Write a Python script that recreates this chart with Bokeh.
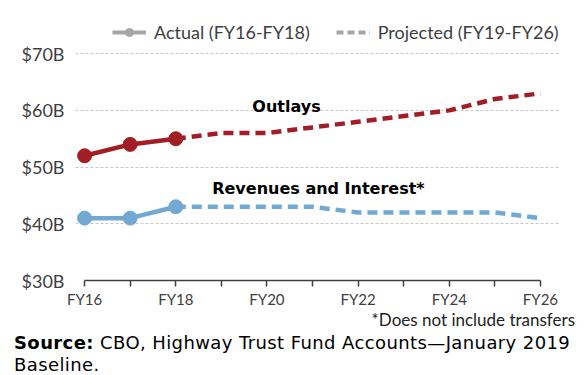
from bokeh.plotting import figure
from bokeh.layouts import column
from bokeh.models import (ColumnDataSource, Legend, LegendItem, Label, FixedTicker, Div)
from bokeh.embed import file_html
from bokeh.resources import INLINE

# ---- data ----
years_actual = [2016, 2017, 2018]
outlays_actual = [52, 54, 55]
revenues_actual = [41, 41, 43]

years_proj = [2018, 2019, 2020, 2021, 2022, 2023, 2024, 2025, 2026]
outlays_proj = [55, 56, 56, 57, 58, 59, 60, 62, 63]
revenues_proj = [43, 43, 43, 43, 42, 42, 42, 42, 41]

y_ticks = [30, 40, 50, 60, 70]
y_labels = ["$30B", "$40B", "$50B", "$60B", "$70B"]
x_ticks = list(range(2016, 2027))
x_labels = {y: ("FY%02d" % (y - 2000) if y % 2 == 0 else "") for y in x_ticks}

RED = "#A21D24"
BLUE = "#72A9D4"
GRAY = "#A6A6A6"
FONT = "Lato"
BOLD_FONT = "DejaVu Sans"

W, H = 580, 310
p = figure(width=W, height=H, output_backend="svg", toolbar_location=None,
           x_range=(2015.8, 2026.44), y_range=(30, 75.5),
           min_border_left=75, min_border_right=20, min_border_top=22,
           min_border_bottom=30)
p.outline_line_color = None
p.background_fill_color = "white"

# axes
p.xaxis.ticker = FixedTicker(ticks=x_ticks)
p.xaxis.major_label_overrides = x_labels
p.xaxis.bounds = (2016, 2026)
p.xaxis.axis_line_color = "#404040"
p.xaxis.axis_line_width = 1.5
p.xaxis.major_tick_line_color = "#404040"
p.xaxis.major_tick_line_width = 1.5
p.xaxis.major_tick_in = 0
p.xaxis.major_tick_out = 6
p.xaxis.minor_tick_line_color = None
p.xaxis.major_label_text_font = FONT
p.xaxis.major_label_text_font_size = "15px"
p.xaxis.major_label_text_color = "#404040"
p.xaxis.major_label_standoff = 3

p.yaxis.ticker = FixedTicker(ticks=y_ticks)
p.yaxis.major_label_overrides = {t: l for t, l in zip(y_ticks, y_labels)}
p.yaxis.axis_line_color = None
p.yaxis.major_tick_line_color = None
p.yaxis.minor_tick_line_color = None
p.yaxis.major_label_text_font = FONT
p.yaxis.major_label_text_font_size = "18px"
p.yaxis.major_label_text_color = "#404040"
p.yaxis.major_label_standoff = 5

p.xgrid.grid_line_color = None
p.ygrid.grid_line_color = "#C8C8C8"
p.ygrid.grid_line_dash = "3 2"
p.ygrid.grid_line_width = 1
p.ygrid.bounds = (2016, 2026)

# series
p.line(years_proj, outlays_proj, line_color=RED, line_width=4.5, line_dash="10 6")
p.line(years_proj, revenues_proj, line_color=BLUE, line_width=4.5, line_dash="10 6")
p.line(years_actual, outlays_actual, line_color=RED, line_width=4.5)
p.line(years_actual, revenues_actual, line_color=BLUE, line_width=4.5)
p.scatter(years_actual, outlays_actual, size=14, fill_color=RED, line_color=RED)
p.scatter(years_actual, revenues_actual, size=14, fill_color=BLUE, line_color=BLUE)

# legend-only renderers (data kept outside the visible range)
legend_src = ColumnDataSource(data=dict(x=[1990, 1991], y=[0, 0]))
r_al = p.line("x", "y", source=legend_src, line_color=GRAY, line_width=4)
r_am = p.scatter("x", "y", source=legend_src, size=11, fill_color=GRAY, line_color=GRAY)
r_p = p.line("x", "y", source=legend_src, line_color=GRAY, line_width=4, line_dash="7 4")
legend = Legend(items=[LegendItem(label="Actual (FY16-FY18)", renderers=[r_al, r_am]),
                       LegendItem(label="Projected (FY19-FY26)", renderers=[r_p])],
                orientation="horizontal", location=(37, 237),
                label_text_font=FONT, label_text_font_size="18px",
                label_text_color="#404040", glyph_width=34, label_standoff=8,
                spacing=26, background_fill_alpha=0, border_line_color=None,
                padding=0, margin=0)
p.add_layout(legend, "center")

# annotations
p.add_layout(Label(x=2020.43, y=60.6, text="Outlays", text_font=BOLD_FONT,
                   text_font_style="bold", text_font_size="16px",
                   text_align="center", text_baseline="alphabetic", text_color="black"))
p.add_layout(Label(x=2021.13, y=46.2, text="Revenues and Interest*", text_font=BOLD_FONT,
                   text_font_style="bold", text_font_size="16px",
                   text_align="center", text_baseline="alphabetic", text_color="black"))

note = Div(width=W, height=65, margin=(0, 0, 0, 0), text=(
    '<div style="font-family: Lato; color:#222; width:%dpx;">'
    '<div style="text-align:right; font-size:17px; line-height:20px; padding-right:5px;">'
    '*Does not include transfers</div>'
    '<div style="font-family:\'DejaVu Sans\'; font-size:18px; letter-spacing:0.4px; line-height:25px; padding-left:14px; color:#000; white-space:nowrap;">'
    '<b>Source:</b> CBO, Highway Trust Fund Accounts\u2014January 2019</div>'
    '<div style="font-family:\'DejaVu Sans\'; font-size:18px; letter-spacing:0.4px; line-height:20px; padding-left:14px; color:#000;">'
    'Baseline.</div></div>' % W))

layout = column(p, note, spacing=0)
open("out.html", "w").write(file_html(layout, INLINE))
